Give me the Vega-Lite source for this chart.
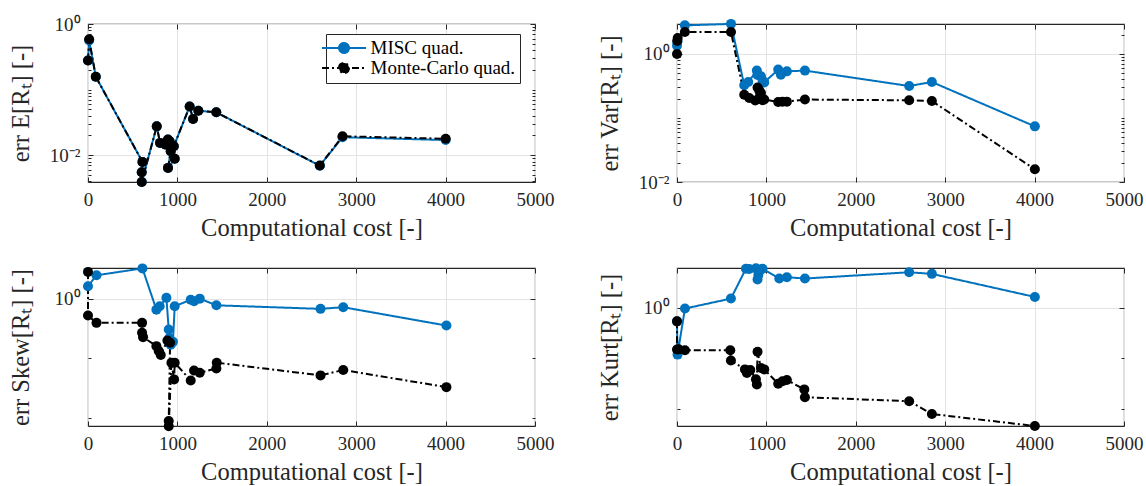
{
  "$schema": "https://vega.github.io/schema/vega-lite/v6.json",
  "padding": {"left": 7, "top": 14, "right": 5, "bottom": 5},
  "background": "white",
  "config": {
    "font": "Liberation Serif",
    "view": {"stroke": "#262626", "strokeWidth": 1.1},
    "axis": {"labelFont": "Liberation Serif", "titleFont": "Liberation Serif", "labelFontSize": 19, "titleFontSize": 24.5, "titleFontWeight": "normal", "labelColor": "#262626", "titleColor": "#262626", "tickColor": "#262626", "domain": false, "gridColor": "#e3e3e3", "labelOverlap": false, "labelFlush": false}
  },
  "resolve": {"scale": {"color": "independent", "strokeDash": "independent"}},
  "datasets": {
    "d": [
      {"p":"E","s":"MISC quad.","i":1,"x":0,"y":0.277},{"p":"E","s":"MISC quad.","i":2,"x":13,"y":0.56},{"p":"E","s":"MISC quad.","i":3,"x":87,"y":0.157},{"p":"E","s":"MISC quad.","i":4,"x":609,"y":0.0079},{"p":"E","s":"MISC quad.","i":5,"x":601,"y":0.0055},{"p":"E","s":"MISC quad.","i":6,"x":601,"y":0.0039},{"p":"E","s":"MISC quad.","i":7,"x":769,"y":0.0275},{"p":"E","s":"MISC quad.","i":8,"x":806,"y":0.0154},{"p":"E","s":"MISC quad.","i":9,"x":870,"y":0.0145},{"p":"E","s":"MISC quad.","i":10,"x":894,"y":0.0173},{"p":"E","s":"MISC quad.","i":11,"x":913,"y":0.0163},{"p":"E","s":"MISC quad.","i":12,"x":925,"y":0.0115},{"p":"E","s":"MISC quad.","i":13,"x":895,"y":0.0064},{"p":"E","s":"MISC quad.","i":14,"x":970,"y":0.0088},{"p":"E","s":"MISC quad.","i":15,"x":960,"y":0.0137},{"p":"E","s":"MISC quad.","i":16,"x":1137,"y":0.0554},{"p":"E","s":"MISC quad.","i":17,"x":1175,"y":0.0355},{"p":"E","s":"MISC quad.","i":18,"x":1234,"y":0.0476},{"p":"E","s":"MISC quad.","i":19,"x":1435,"y":0.045},{"p":"E","s":"MISC quad.","i":20,"x":2593,"y":0.0069},{"p":"E","s":"MISC quad.","i":21,"x":2847,"y":0.0188},{"p":"E","s":"MISC quad.","i":22,"x":4001,"y":0.017},
      {"p":"E","s":"Monte-Carlo quad.","i":1,"x":0,"y":0.277},{"p":"E","s":"Monte-Carlo quad.","i":2,"x":13,"y":0.585},{"p":"E","s":"Monte-Carlo quad.","i":3,"x":87,"y":0.157},{"p":"E","s":"Monte-Carlo quad.","i":4,"x":609,"y":0.0079},{"p":"E","s":"Monte-Carlo quad.","i":5,"x":601,"y":0.0055},{"p":"E","s":"Monte-Carlo quad.","i":6,"x":601,"y":0.0039},{"p":"E","s":"Monte-Carlo quad.","i":7,"x":769,"y":0.0275},{"p":"E","s":"Monte-Carlo quad.","i":8,"x":806,"y":0.0154},{"p":"E","s":"Monte-Carlo quad.","i":9,"x":870,"y":0.0145},{"p":"E","s":"Monte-Carlo quad.","i":10,"x":894,"y":0.0173},{"p":"E","s":"Monte-Carlo quad.","i":11,"x":913,"y":0.0163},{"p":"E","s":"Monte-Carlo quad.","i":12,"x":925,"y":0.0115},{"p":"E","s":"Monte-Carlo quad.","i":13,"x":895,"y":0.0064},{"p":"E","s":"Monte-Carlo quad.","i":14,"x":970,"y":0.0088},{"p":"E","s":"Monte-Carlo quad.","i":15,"x":960,"y":0.0137},{"p":"E","s":"Monte-Carlo quad.","i":16,"x":1137,"y":0.0554},{"p":"E","s":"Monte-Carlo quad.","i":17,"x":1175,"y":0.0355},{"p":"E","s":"Monte-Carlo quad.","i":18,"x":1234,"y":0.0476},{"p":"E","s":"Monte-Carlo quad.","i":19,"x":1435,"y":0.045},{"p":"E","s":"Monte-Carlo quad.","i":20,"x":2593,"y":0.00695},{"p":"E","s":"Monte-Carlo quad.","i":21,"x":2847,"y":0.0194},{"p":"E","s":"Monte-Carlo quad.","i":22,"x":4001,"y":0.0178},

      {"p":"V","s":"MISC quad.","i":1,"x":0,"y":1.35},{"p":"V","s":"MISC quad.","i":2,"x":5,"y":1.58},{"p":"V","s":"MISC quad.","i":3,"x":88,"y":2.8},{"p":"V","s":"MISC quad.","i":4,"x":604,"y":2.95},{"p":"V","s":"MISC quad.","i":5,"x":752,"y":0.324},{"p":"V","s":"MISC quad.","i":6,"x":797,"y":0.365},{"p":"V","s":"MISC quad.","i":7,"x":893,"y":0.55},{"p":"V","s":"MISC quad.","i":8,"x":901,"y":0.47},{"p":"V","s":"MISC quad.","i":9,"x":939,"y":0.45},{"p":"V","s":"MISC quad.","i":10,"x":957,"y":0.38},{"p":"V","s":"MISC quad.","i":11,"x":976,"y":0.36},{"p":"V","s":"MISC quad.","i":12,"x":1132,"y":0.57},{"p":"V","s":"MISC quad.","i":13,"x":1162,"y":0.475},{"p":"V","s":"MISC quad.","i":14,"x":1229,"y":0.535},{"p":"V","s":"MISC quad.","i":15,"x":1431,"y":0.55},{"p":"V","s":"MISC quad.","i":16,"x":2597,"y":0.316},{"p":"V","s":"MISC quad.","i":17,"x":2851,"y":0.365},{"p":"V","s":"MISC quad.","i":18,"x":4003,"y":0.074},
      {"p":"V","s":"Monte-Carlo quad.","i":1,"x":0,"y":1.0},{"p":"V","s":"Monte-Carlo quad.","i":2,"x":3,"y":1.6},{"p":"V","s":"Monte-Carlo quad.","i":3,"x":8,"y":1.78},{"p":"V","s":"Monte-Carlo quad.","i":4,"x":88,"y":2.2},{"p":"V","s":"Monte-Carlo quad.","i":5,"x":604,"y":2.2},{"p":"V","s":"Monte-Carlo quad.","i":6,"x":752,"y":0.23},{"p":"V","s":"Monte-Carlo quad.","i":7,"x":808,"y":0.205},{"p":"V","s":"Monte-Carlo quad.","i":8,"x":875,"y":0.187},{"p":"V","s":"Monte-Carlo quad.","i":9,"x":901,"y":0.3},{"p":"V","s":"Monte-Carlo quad.","i":10,"x":920,"y":0.27},{"p":"V","s":"Monte-Carlo quad.","i":11,"x":939,"y":0.245},{"p":"V","s":"Monte-Carlo quad.","i":12,"x":957,"y":0.19},{"p":"V","s":"Monte-Carlo quad.","i":13,"x":976,"y":0.195},{"p":"V","s":"Monte-Carlo quad.","i":14,"x":1132,"y":0.178},{"p":"V","s":"Monte-Carlo quad.","i":15,"x":1180,"y":0.18},{"p":"V","s":"Monte-Carlo quad.","i":16,"x":1229,"y":0.18},{"p":"V","s":"Monte-Carlo quad.","i":17,"x":1431,"y":0.194},{"p":"V","s":"Monte-Carlo quad.","i":18,"x":2597,"y":0.189},{"p":"V","s":"Monte-Carlo quad.","i":19,"x":2851,"y":0.184},{"p":"V","s":"Monte-Carlo quad.","i":20,"x":4003,"y":0.0158},

      {"p":"S","s":"MISC quad.","i":1,"x":0,"y":1.63},{"p":"S","s":"MISC quad.","i":2,"x":95,"y":2.49},{"p":"S","s":"MISC quad.","i":3,"x":609,"y":3.25},{"p":"S","s":"MISC quad.","i":4,"x":765,"y":0.66},{"p":"S","s":"MISC quad.","i":5,"x":802,"y":0.75},{"p":"S","s":"MISC quad.","i":6,"x":877,"y":1.04},{"p":"S","s":"MISC quad.","i":7,"x":903,"y":0.306},{"p":"S","s":"MISC quad.","i":8,"x":910,"y":0.22},{"p":"S","s":"MISC quad.","i":9,"x":925,"y":0.17},{"p":"S","s":"MISC quad.","i":10,"x":950,"y":0.19},{"p":"S","s":"MISC quad.","i":11,"x":970,"y":0.75},{"p":"S","s":"MISC quad.","i":12,"x":1149,"y":0.97},{"p":"S","s":"MISC quad.","i":13,"x":1186,"y":0.91},{"p":"S","s":"MISC quad.","i":14,"x":1250,"y":1.01},{"p":"S","s":"MISC quad.","i":15,"x":1436,"y":0.78},{"p":"S","s":"MISC quad.","i":16,"x":2601,"y":0.68},{"p":"S","s":"MISC quad.","i":17,"x":2855,"y":0.725},{"p":"S","s":"MISC quad.","i":18,"x":4009,"y":0.357},
      {"p":"S","s":"Monte-Carlo quad.","i":1,"x":0,"y":2.84},{"p":"S","s":"Monte-Carlo quad.","i":2,"x":0,"y":0.526},{"p":"S","s":"Monte-Carlo quad.","i":3,"x":95,"y":0.396},{"p":"S","s":"Monte-Carlo quad.","i":4,"x":605,"y":0.396},{"p":"S","s":"Monte-Carlo quad.","i":5,"x":605,"y":0.27},{"p":"S","s":"Monte-Carlo quad.","i":6,"x":616,"y":0.228},{"p":"S","s":"Monte-Carlo quad.","i":7,"x":765,"y":0.161},{"p":"S","s":"Monte-Carlo quad.","i":8,"x":791,"y":0.133},{"p":"S","s":"Monte-Carlo quad.","i":9,"x":814,"y":0.114},{"p":"S","s":"Monte-Carlo quad.","i":10,"x":888,"y":0.2},{"p":"S","s":"Monte-Carlo quad.","i":11,"x":918,"y":0.183},{"p":"S","s":"Monte-Carlo quad.","i":12,"x":903,"y":0.0089},{"p":"S","s":"Monte-Carlo quad.","i":13,"x":903,"y":0.0073},{"p":"S","s":"Monte-Carlo quad.","i":14,"x":933,"y":0.0846},{"p":"S","s":"Monte-Carlo quad.","i":15,"x":963,"y":0.0445},{"p":"S","s":"Monte-Carlo quad.","i":16,"x":970,"y":0.0846},{"p":"S","s":"Monte-Carlo quad.","i":17,"x":1149,"y":0.0428},{"p":"S","s":"Monte-Carlo quad.","i":18,"x":1186,"y":0.063},{"p":"S","s":"Monte-Carlo quad.","i":19,"x":1250,"y":0.0575},{"p":"S","s":"Monte-Carlo quad.","i":20,"x":1436,"y":0.068},{"p":"S","s":"Monte-Carlo quad.","i":21,"x":1440,"y":0.085},{"p":"S","s":"Monte-Carlo quad.","i":22,"x":2601,"y":0.052},{"p":"S","s":"Monte-Carlo quad.","i":23,"x":2855,"y":0.064},{"p":"S","s":"Monte-Carlo quad.","i":24,"x":4009,"y":0.033},

      {"p":"K","s":"MISC quad.","i":1,"x":0,"y":0.54},{"p":"K","s":"MISC quad.","i":2,"x":6,"y":0.118},{"p":"K","s":"MISC quad.","i":3,"x":89,"y":0.97},{"p":"K","s":"MISC quad.","i":4,"x":603,"y":1.53},{"p":"K","s":"MISC quad.","i":5,"x":771,"y":6.0},{"p":"K","s":"MISC quad.","i":6,"x":808,"y":5.9},{"p":"K","s":"MISC quad.","i":7,"x":883,"y":6.1},{"p":"K","s":"MISC quad.","i":8,"x":901,"y":3.65},{"p":"K","s":"MISC quad.","i":9,"x":910,"y":4.5},{"p":"K","s":"MISC quad.","i":10,"x":939,"y":5.8},{"p":"K","s":"MISC quad.","i":11,"x":957,"y":6.0},{"p":"K","s":"MISC quad.","i":12,"x":1144,"y":3.83},{"p":"K","s":"MISC quad.","i":13,"x":1229,"y":4.07},{"p":"K","s":"MISC quad.","i":14,"x":1431,"y":3.83},{"p":"K","s":"MISC quad.","i":15,"x":2597,"y":5.1},{"p":"K","s":"MISC quad.","i":16,"x":2851,"y":4.74},{"p":"K","s":"MISC quad.","i":17,"x":4003,"y":1.65},
      {"p":"K","s":"Monte-Carlo quad.","i":1,"x":0,"y":0.54},{"p":"K","s":"Monte-Carlo quad.","i":2,"x":0,"y":0.149},{"p":"K","s":"Monte-Carlo quad.","i":3,"x":20,"y":0.15},{"p":"K","s":"Monte-Carlo quad.","i":4,"x":89,"y":0.144},{"p":"K","s":"Monte-Carlo quad.","i":5,"x":596,"y":0.144},{"p":"K","s":"Monte-Carlo quad.","i":6,"x":603,"y":0.09},{"p":"K","s":"Monte-Carlo quad.","i":7,"x":760,"y":0.06},{"p":"K","s":"Monte-Carlo quad.","i":8,"x":782,"y":0.051},{"p":"K","s":"Monte-Carlo quad.","i":9,"x":820,"y":0.058},{"p":"K","s":"Monte-Carlo quad.","i":10,"x":883,"y":0.038},{"p":"K","s":"Monte-Carlo quad.","i":11,"x":893,"y":0.03},{"p":"K","s":"Monte-Carlo quad.","i":12,"x":901,"y":0.134},{"p":"K","s":"Monte-Carlo quad.","i":13,"x":939,"y":0.064},{"p":"K","s":"Monte-Carlo quad.","i":14,"x":976,"y":0.06},{"p":"K","s":"Monte-Carlo quad.","i":15,"x":1132,"y":0.031},{"p":"K","s":"Monte-Carlo quad.","i":16,"x":1180,"y":0.035},{"p":"K","s":"Monte-Carlo quad.","i":17,"x":1229,"y":0.037},{"p":"K","s":"Monte-Carlo quad.","i":18,"x":1424,"y":0.024},{"p":"K","s":"Monte-Carlo quad.","i":19,"x":1431,"y":0.0168},{"p":"K","s":"Monte-Carlo quad.","i":20,"x":2597,"y":0.014},{"p":"K","s":"Monte-Carlo quad.","i":21,"x":2851,"y":0.0078},{"p":"K","s":"Monte-Carlo quad.","i":22,"x":4003,"y":0.0045}
    ]
  },
  "columns": 2,
  "spacing": {"row": 86, "column": 142},
  "bounds": "flush",
  "concat": [
    {
      "width": 447, "height": 158,
      "data": {"name": "d"},
      "transform": [{"filter": "datum.p == 'E'"}],
      "resolve": {"axis": {"x": "independent", "y": "independent"}},
      "layer": [
        {
          "mark": {"type": "line", "strokeWidth": 2},
          "encoding": {
            "x": {"field": "x", "type": "quantitative", "scale": {"domain": [0, 5000], "nice": false}, "axis": {"values": [0,1000,2000,3000,4000,5000], "format": "d", "grid": true, "tickSize": -5, "labelPadding": 13, "title": "Computational cost [-]", "titleX": 223.5, "titleY": 46, "titleBaseline": "middle", "titleAlign": "center"}},
            "y": {"field": "y", "type": "quantitative", "scale": {"type": "log", "domain": [0.0039, 1], "nice": false}, "axis": {"values": [0.004,0.005,0.006,0.007,0.008,0.009,0.01,0.02,0.03,0.04,0.05,0.06,0.07,0.08,0.09,0.1,0.2,0.3,0.4,0.5,0.6,0.7,0.8,0.9,1], "labelExpr": "datum.value == 1 ? '10⁰' : datum.value == 0.01 ? '10⁻²' : ''", "grid": true, "gridColor": {"condition": {"test": "datum.value == 1 || datum.value == 0.01", "value": "#e3e3e3"}, "value": "transparent"}, "tickSize": {"condition": {"test": "datum.value == 1 || datum.value == 0.01", "value": -5}, "value": -3}, "labelPadding": 13, "title": "err E[Rₜ] [-]", "titleX": -67, "titleY": 79, "titleAngle": 270, "titleBaseline": "middle", "titleAlign": "center"}},
            "color": {"field": "s", "type": "nominal", "scale": {"domain": ["MISC quad.", "Monte-Carlo quad."], "range": ["#0072BD", "#000000"]}, "legend": {"orient": "none", "legendX": 238, "legendY": 10, "title": null, "direction": "vertical", "strokeColor": "#262626", "fillColor": "white", "padding": 4.5, "rowPadding": 0, "labelFontSize": 19, "labelFont": "Liberation Serif", "labelColor": "black", "symbolType": "M-4.4,0H4.4M-1,0A1,1 0 1,1 1,0A1,1 0 1,1 -1,0Z", "symbolSize": 100, "symbolStrokeWidth": 2, "symbolOffset": 4, "labelOffset": 17}},
            "strokeDash": {"field": "s", "type": "nominal", "scale": {"domain": ["MISC quad.", "Monte-Carlo quad."], "range": [[1, 0], [7, 3, 2, 3]]}, "legend": {"orient": "none", "legendX": 238, "legendY": 10, "title": null, "direction": "vertical", "strokeColor": "#262626", "fillColor": "white", "padding": 4.5, "rowPadding": 0, "labelFontSize": 19, "labelFont": "Liberation Serif", "labelColor": "black", "symbolType": "M-4.4,0H4.4M-1,0A1,1 0 1,1 1,0A1,1 0 1,1 -1,0Z", "symbolSize": 100, "symbolStrokeWidth": 2, "symbolOffset": 4, "labelOffset": 17}},
            "order": {"field": "i", "type": "quantitative"}
          }
        },
        {
          "mark": {"type": "point", "filled": true, "size": 100, "opacity": 1},
          "encoding": {
            "x": {"field": "x", "type": "quantitative", "axis": {"orient": "top", "values": [0,1000,2000,3000,4000,5000], "grid": false, "labels": false, "tickSize": -5, "title": null}},
            "y": {"field": "y", "type": "quantitative", "axis": {"orient": "right", "values": [0.004,0.005,0.006,0.007,0.008,0.009,0.01,0.02,0.03,0.04,0.05,0.06,0.07,0.08,0.09,0.1,0.2,0.3,0.4,0.5,0.6,0.7,0.8,0.9,1], "labels": false, "grid": false, "title": null, "tickSize": {"condition": {"test": "datum.value == 1 || datum.value == 0.01", "value": -5}, "value": -3}}},
            "color": {"field": "s", "type": "nominal", "legend": {"orient": "none", "legendX": 238, "legendY": 10, "title": null, "direction": "vertical", "strokeColor": "#262626", "fillColor": "white", "padding": 4.5, "rowPadding": 0, "labelFontSize": 19, "labelFont": "Liberation Serif", "labelColor": "black", "symbolType": "M-4.4,0H4.4M-1,0A1,1 0 1,1 1,0A1,1 0 1,1 -1,0Z", "symbolSize": 100, "symbolStrokeWidth": 2, "symbolOffset": 4, "labelOffset": 17}}
          }
        }
      ]
    },
    {
      "width": 447, "height": 158,
      "data": {"name": "d"},
      "transform": [{"filter": "datum.p == 'V'"}],
      "resolve": {"axis": {"x": "independent", "y": "independent"}},
      "layer": [
        {
          "mark": {"type": "line", "strokeWidth": 2},
          "encoding": {
            "x": {"field": "x", "type": "quantitative", "scale": {"domain": [0, 5000], "nice": false}, "axis": {"values": [0,1000,2000,3000,4000,5000], "format": "d", "grid": true, "tickSize": -5, "labelPadding": 13, "title": "Computational cost [-]", "titleX": 223.5, "titleY": 46, "titleBaseline": "middle", "titleAlign": "center"}},
            "y": {"field": "y", "type": "quantitative", "scale": {"type": "log", "domain": [0.01, 2.94], "nice": false}, "axis": {"values": [0.01,0.02,0.03,0.04,0.05,0.06,0.07,0.08,0.09,0.1,0.2,0.3,0.4,0.5,0.6,0.7,0.8,0.9,1,2], "labelExpr": "datum.value == 1 ? '10⁰' : datum.value == 0.01 ? '10⁻²' : ''", "grid": true, "gridColor": {"condition": {"test": "datum.value == 1 || datum.value == 0.01", "value": "#e3e3e3"}, "value": "transparent"}, "tickSize": {"condition": {"test": "datum.value == 1 || datum.value == 0.01", "value": -5}, "value": -3}, "labelPadding": 13, "title": "err Var[Rₜ] [-]", "titleX": -67, "titleY": 79, "titleAngle": 270, "titleBaseline": "middle", "titleAlign": "center"}},
            "color": {"field": "s", "type": "nominal", "scale": {"domain": ["MISC quad.", "Monte-Carlo quad."], "range": ["#0072BD", "#000000"]}, "legend": null},
            "strokeDash": {"field": "s", "type": "nominal", "scale": {"domain": ["MISC quad.", "Monte-Carlo quad."], "range": [[1, 0], [7, 3, 2, 3]]}, "legend": null},
            "order": {"field": "i", "type": "quantitative"}
          }
        },
        {
          "mark": {"type": "point", "filled": true, "size": 100, "opacity": 1},
          "encoding": {
            "x": {"field": "x", "type": "quantitative", "axis": {"orient": "top", "values": [0,1000,2000,3000,4000,5000], "grid": false, "labels": false, "tickSize": -5, "title": null}},
            "y": {"field": "y", "type": "quantitative", "axis": {"orient": "right", "values": [0.01,0.02,0.03,0.04,0.05,0.06,0.07,0.08,0.09,0.1,0.2,0.3,0.4,0.5,0.6,0.7,0.8,0.9,1,2], "labels": false, "grid": false, "title": null, "tickSize": {"condition": {"test": "datum.value == 1 || datum.value == 0.01", "value": -5}, "value": -3}}},
            "color": {"field": "s", "type": "nominal", "legend": null}
          }
        }
      ]
    },
    {
      "width": 447, "height": 158,
      "data": {"name": "d"},
      "transform": [{"filter": "datum.p == 'S'"}],
      "resolve": {"axis": {"x": "independent", "y": "independent"}},
      "layer": [
        {
          "mark": {"type": "line", "strokeWidth": 2},
          "encoding": {
            "x": {"field": "x", "type": "quantitative", "scale": {"domain": [0, 5000], "nice": false}, "axis": {"values": [0,1000,2000,3000,4000,5000], "format": "d", "grid": true, "tickSize": -5, "labelPadding": 13, "title": "Computational cost [-]", "titleX": 223.5, "titleY": 46, "titleBaseline": "middle", "titleAlign": "center"}},
            "y": {"field": "y", "type": "quantitative", "scale": {"type": "log", "domain": [0.00735, 3.3], "nice": false}, "axis": {"values": [0.01, 0.1, 1], "labelExpr": "datum.value == 1 ? '10⁰' : ''", "grid": true, "gridColor": {"condition": {"test": "datum.value == 1", "value": "#e3e3e3"}, "value": "transparent"}, "tickSize": {"condition": {"test": "datum.value == 1", "value": -5}, "value": -3}, "labelPadding": 13, "title": "err Skew[Rₜ] [-]", "titleX": -67, "titleY": 79, "titleAngle": 270, "titleBaseline": "middle", "titleAlign": "center"}},
            "color": {"field": "s", "type": "nominal", "scale": {"domain": ["MISC quad.", "Monte-Carlo quad."], "range": ["#0072BD", "#000000"]}, "legend": null},
            "strokeDash": {"field": "s", "type": "nominal", "scale": {"domain": ["MISC quad.", "Monte-Carlo quad."], "range": [[1, 0], [7, 3, 2, 3]]}, "legend": null},
            "order": {"field": "i", "type": "quantitative"}
          }
        },
        {
          "mark": {"type": "point", "filled": true, "size": 100, "opacity": 1},
          "encoding": {
            "x": {"field": "x", "type": "quantitative", "axis": {"orient": "top", "values": [0,1000,2000,3000,4000,5000], "grid": false, "labels": false, "tickSize": -5, "title": null}},
            "y": {"field": "y", "type": "quantitative", "axis": {"orient": "right", "values": [0.01, 0.1, 1], "labels": false, "grid": false, "title": null, "tickSize": {"condition": {"test": "datum.value == 1", "value": -5}, "value": -3}}},
            "color": {"field": "s", "type": "nominal", "legend": null}
          }
        }
      ]
    },
    {
      "width": 447, "height": 158,
      "data": {"name": "d"},
      "transform": [{"filter": "datum.p == 'K'"}],
      "resolve": {"axis": {"x": "independent", "y": "independent"}},
      "layer": [
        {
          "mark": {"type": "line", "strokeWidth": 2},
          "encoding": {
            "x": {"field": "x", "type": "quantitative", "scale": {"domain": [0, 5000], "nice": false}, "axis": {"values": [0,1000,2000,3000,4000,5000], "format": "d", "grid": true, "tickSize": -5, "labelPadding": 13, "title": "Computational cost [-]", "titleX": 223.5, "titleY": 46, "titleBaseline": "middle", "titleAlign": "center"}},
            "y": {"field": "y", "type": "quantitative", "scale": {"type": "log", "domain": [0.0045, 6.2], "nice": false}, "axis": {"values": [0.01, 0.1, 1], "labelExpr": "datum.value == 1 ? '10⁰' : ''", "grid": true, "gridColor": {"condition": {"test": "datum.value == 1", "value": "#e3e3e3"}, "value": "transparent"}, "tickSize": {"condition": {"test": "datum.value == 1", "value": -5}, "value": -3}, "labelPadding": 13, "title": "err Kurt[Rₜ] [-]", "titleX": -67, "titleY": 79, "titleAngle": 270, "titleBaseline": "middle", "titleAlign": "center"}},
            "color": {"field": "s", "type": "nominal", "scale": {"domain": ["MISC quad.", "Monte-Carlo quad."], "range": ["#0072BD", "#000000"]}, "legend": null},
            "strokeDash": {"field": "s", "type": "nominal", "scale": {"domain": ["MISC quad.", "Monte-Carlo quad."], "range": [[1, 0], [7, 3, 2, 3]]}, "legend": null},
            "order": {"field": "i", "type": "quantitative"}
          }
        },
        {
          "mark": {"type": "point", "filled": true, "size": 100, "opacity": 1},
          "encoding": {
            "x": {"field": "x", "type": "quantitative", "axis": {"orient": "top", "values": [0,1000,2000,3000,4000,5000], "grid": false, "labels": false, "tickSize": -5, "title": null}},
            "y": {"field": "y", "type": "quantitative", "axis": {"orient": "right", "values": [0.01, 0.1, 1], "labels": false, "grid": false, "title": null, "tickSize": {"condition": {"test": "datum.value == 1", "value": -5}, "value": -3}}},
            "color": {"field": "s", "type": "nominal", "legend": null}
          }
        }
      ]
    }
  ]
}
